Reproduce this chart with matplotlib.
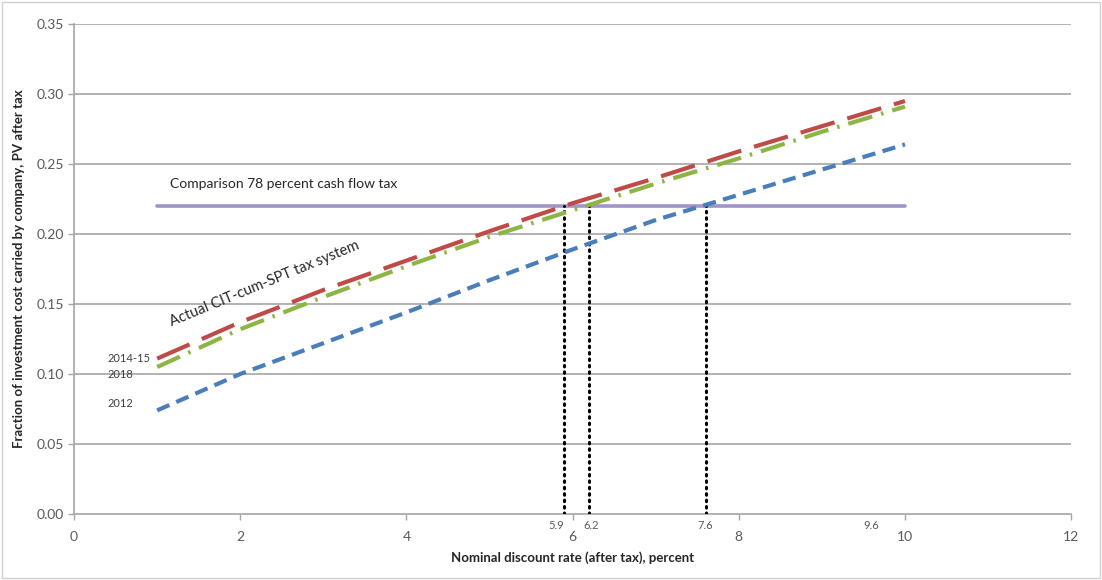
import numpy as np
import matplotlib
matplotlib.use("Agg")
import matplotlib.pyplot as plt

plt.rcParams['font.family'] = ['Lato', 'DejaVu Sans']

# discount rate, percent
rate = [1, 2, 3, 4, 5, 6, 7, 8, 9, 10]
# fraction of investment cost carried by company
y_2014_15 = [0.111, 0.137, 0.160, 0.181, 0.202, 0.222, 0.240, 0.259, 0.277, 0.295]
y_2018 = [0.105, 0.132, 0.155, 0.177, 0.198, 0.217, 0.236, 0.254, 0.273, 0.291]
y_2012 = [0.074, 0.100, 0.122, 0.144, 0.167, 0.189, 0.210, 0.228, 0.246, 0.264]
cash_flow_tax = 0.22
crossings = [5.9, 6.2, 7.6]
crossing_labels = ["5.9", "6.2", "7.6", "9.6"]
crossing_label_x = [5.8, 6.22, 7.6, 9.6]

fig = plt.figure(figsize=(11.02, 5.8), dpi=100)
ax = fig.add_axes([0.0672, 0.1138, 0.9048, 0.8448])

grid_c = "#a6a6a6"
for yv in np.arange(0.05, 0.351, 0.05):
    ax.axhline(yv, color=grid_c, lw=1.2, zorder=0)

ax.plot([rate[0], rate[-1]], [cash_flow_tax, cash_flow_tax], color="#a094c8", lw=2.6,
        solid_capstyle="round", zorder=2)

for xc in crossings:
    ax.plot([xc, xc], [0, cash_flow_tax], color="black", lw=2.2,
            linestyle=(0, (0.5, 1.6)), dash_capstyle="round", zorder=3)

ax.plot(rate, y_2012, color="#4a7ebb", lw=3, linestyle=(0, (3.2, 1.8)), zorder=4)
ax.plot(rate, y_2018, color="#8db543", lw=3, linestyle=(0, (6, 2.2, 0.6, 2.2)), zorder=4)
ax.plot(rate, y_2014_15, color="#be4b48", lw=3, linestyle=(0, (8.5, 3.2)), zorder=5)

txt_c = "#404040"
ax.text(0.4, 0.111, "2014-15", fontsize=8, color=txt_c, va="center")
ax.text(0.4, 0.1, "2018", fontsize=8, color=txt_c, va="center")
ax.text(0.4, 0.079, "2012", fontsize=8, color=txt_c, va="center")
ax.text(1.15, 0.2355, "Comparison 78 percent cash flow tax", fontsize=10,
        color="#262626", va="center")
ax.text(1.19, 0.1325, "Actual CIT-cum-SPT tax system", fontsize=10.5, color="#262626",
        rotation=22.4, rotation_mode="anchor", va="bottom")

for lab, xl in zip(crossing_labels, crossing_label_x):
    ax.text(xl, -0.0045, lab, fontsize=8, color="#595959", ha="center", va="top")

ax.set_xlim(0, 12)
ax.set_ylim(0, 0.35)
ax.set_xticks(range(0, 13, 2))
ax.set_yticks(np.arange(0, 0.351, 0.05))
ax.set_yticklabels([f"{v:.2f}" for v in np.arange(0, 0.351, 0.05)])
ax.tick_params(axis="both", colors=grid_c, labelcolor="#595959", labelsize=10,
               length=4, width=1)
ax.tick_params(axis="x", pad=8)
for s in ["top", "right"]:
    ax.spines[s].set_visible(False)
for s in ["left", "bottom"]:
    ax.spines[s].set_color(grid_c)
    ax.spines[s].set_linewidth(1.2)

ax.set_xlabel("Nominal discount rate (after tax), percent", fontsize=9.5,
              fontweight="bold", color="#262626", labelpad=6)
ax.set_ylabel("Fraction of investment cost carried by company, PV after tax",
              fontsize=9.5, fontweight="bold", color="#262626", labelpad=8)

fig.patches.append(plt.Rectangle((0.002, 0.003), 0.996, 0.994, transform=fig.transFigure,
                                 fill=False, edgecolor="#d0d0d0", lw=1))

fig.savefig("out.png", dpi=100)
